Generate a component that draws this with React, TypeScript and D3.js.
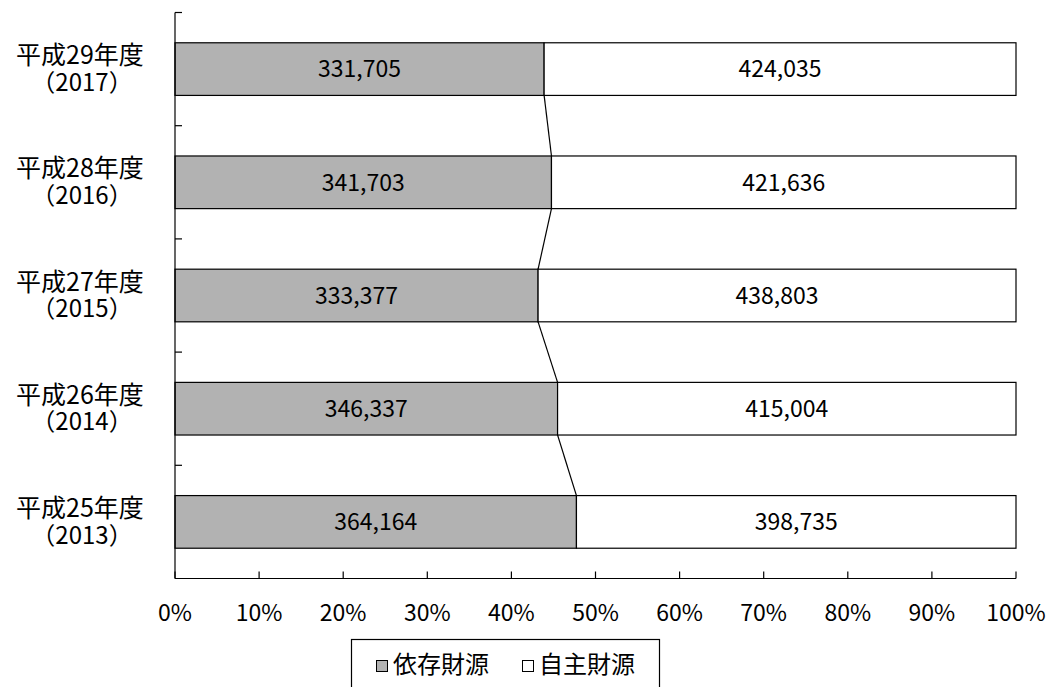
import React from "react";
import * as d3 from "d3";

const categories = ["平成29年度|（2017）", "平成28年度|（2016）", "平成27年度|（2015）", "平成26年度|（2014）", "平成25年度|（2013）"];
const dependent = [331705, 341703, 333377, 346337, 364164];
const independent = [424035, 421636, 438803, 415004, 398735];
const xTicks = [0, 0.1, 0.2, 0.3, 0.4, 0.5, 0.6, 0.7, 0.8, 0.9, 1.0];
const seriesNames = ["依存財源", "自主財源"];

const W = 1049, H = 687;
const left = 175, right = 1016, top = 12.5, bottom = 578.5;
const FONT = "'Noto Sans CJK JP', 'Noto Sans', sans-serif";
const GRAY = "#B2B2B2";

export default function App() {
  const x = d3.scaleLinear().domain([0, 1]).range([left, right]);
  const y = d3.scaleBand<string>().domain(categories).range([top, bottom]).paddingInner(0.535).paddingOuter(0.2675);
  const step = y.step();
  const fmt = d3.format(",");
  const rows = categories.map((c, i) => {
    const total = dependent[i] + independent[i];
    return { c, d: dependent[i], s: independent[i], share: dependent[i] / total };
  });
  const bw = y.bandwidth();
  return (
    <svg width={W} height={H} style={{ position: "absolute", left: 0, top: 0, background: "#fff" }} fontFamily={FONT}>
      {rows.slice(0, -1).map((r, i) => {
        const n = rows[i + 1];
        return (
          <line key={"cn" + i} x1={x(r.share)} y1={(y(r.c) as number) + bw} x2={x(n.share)} y2={y(n.c) as number} stroke="#000" strokeWidth={1.2} />
        );
      })}
      {rows.map((r) => {
        const y0 = y(r.c) as number;
        const [l1, l2] = r.c.split("|");
        const cy = y0 + bw / 2;
        return (
          <g key={r.c}>
            <rect x={x(0)} y={y0} width={x(r.share) - x(0)} height={bw} fill={GRAY} stroke="#000" strokeWidth={1.2} />
            <rect x={x(r.share)} y={y0} width={x(1) - x(r.share)} height={bw} fill="#fff" stroke="#000" strokeWidth={1.2} />
            <text x={(x(0) + x(r.share)) / 2} y={cy} dy="0.36em" textAnchor="middle" fontSize={23} fill="#000">{fmt(r.d)}</text>
            <text x={(x(r.share) + x(1)) / 2} y={cy} dy="0.36em" textAnchor="middle" fontSize={23} fill="#000">{fmt(r.s)}</text>
            <text x={80} y={cy - 14} dy="0.36em" textAnchor="middle" fontSize={25} fill="#000">{l1}</text>
            <text x={82} y={cy + 13} dy="0.36em" textAnchor="middle" fontSize={24} fill="#000">{l2}</text>
          </g>
        );
      })}
      <line x1={left} y1={top} x2={left} y2={bottom} stroke="#000" strokeWidth={1.2} />
      {d3.range(categories.length).map((i) => {
        const yy = top + i * step;
        return <line key={"yt" + i} x1={left} x2={left + 7} y1={yy} y2={yy} stroke="#000" strokeWidth={1.2} />;
      })}
      <line x1={left} y1={bottom} x2={right} y2={bottom} stroke="#000" strokeWidth={1.2} />
      {xTicks.map((t) => (
        <g key={"xt" + t}>
          <line x1={x(t)} x2={x(t)} y1={bottom} y2={bottom - 7} stroke="#000" strokeWidth={1.2} />
          <text x={x(t)} y={613} dy="0.36em" textAnchor="middle" fontSize={23} fill="#000">{d3.format(".0%")(t)}</text>
        </g>
      ))}
      <rect x={351.5} y={639.5} width={308} height={60} fill="#fff" stroke="#000" strokeWidth={1.2} />
      <rect x={376.5} y={660.5} width={11} height={11} fill={GRAY} stroke="#000" strokeWidth={1} />
      <text x={393} y={664} dy="0.36em" fontSize={24} fill="#000">{seriesNames[0]}</text>
      <rect x={522.5} y={660.5} width={11} height={11} fill="#fff" stroke="#000" strokeWidth={1} />
      <text x={539} y={664} dy="0.36em" fontSize={24} fill="#000">{seriesNames[1]}</text>
    </svg>
  );
}
